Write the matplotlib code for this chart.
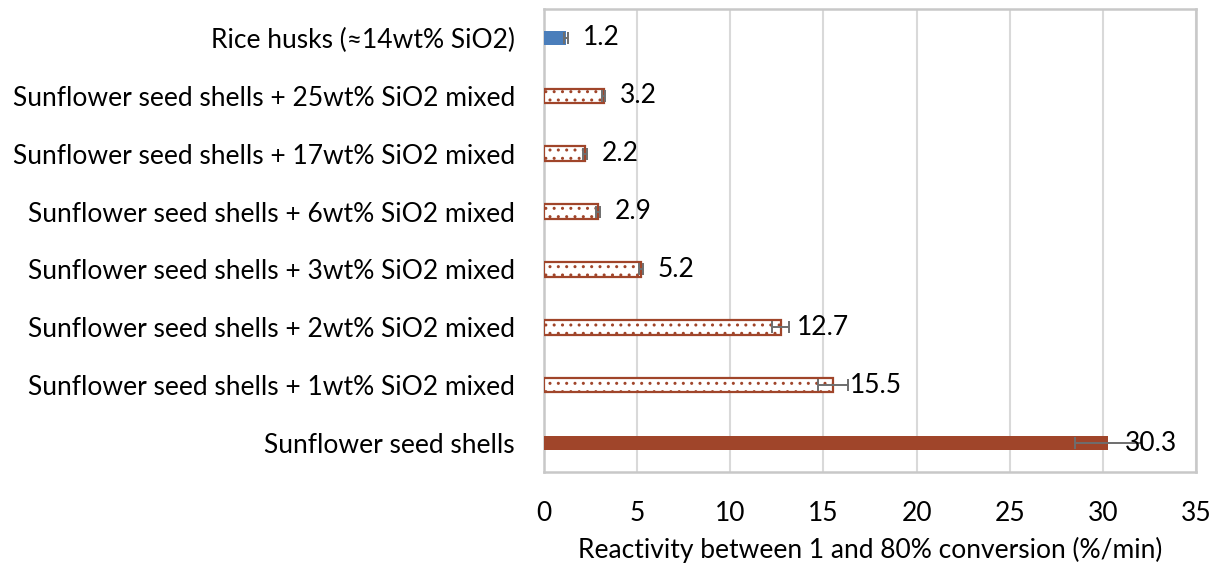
import matplotlib
matplotlib.use("Agg")
import matplotlib.pyplot as plt
import numpy as np

categories = [
    "Sunflower seed shells",
    "Sunflower seed shells + 1wt% SiO2 mixed",
    "Sunflower seed shells + 2wt% SiO2 mixed",
    "Sunflower seed shells + 3wt% SiO2 mixed",
    "Sunflower seed shells + 6wt% SiO2 mixed",
    "Sunflower seed shells + 17wt% SiO2 mixed",
    "Sunflower seed shells + 25wt% SiO2 mixed",
    "Rice husks (\u224814wt% SiO2)",
]
values = [30.3, 15.5, 12.7, 5.2, 2.9, 2.2, 3.2, 1.2]
errors = [1.8, 0.8, 0.45, 0.1, 0.12, 0.1, 0.1, 0.1]
labels = ["30.3", "15.5", "12.7", "5.2", "2.9", "2.2", "3.2", "1.2"]
kinds = ["solid", "dots", "dots", "dots", "dots", "dots", "dots", "blue"]
xticks = [0, 5, 10, 15, 20, 25, 30, 35]

plt.rcParams['font.family'] = ['Lato', 'DejaVu Sans']
plt.rcParams['hatch.color'] = '#C87A66'
plt.rcParams['hatch.linewidth'] = 1.0

fig = plt.figure(figsize=(12.19, 5.70), dpi=100)
ax = fig.add_axes([544/1219, 1 - 472/570, (1196-544)/1219, (472-9)/570])

brown = '#A0452A'
fs = 19
y = np.arange(len(categories))
for i, (v, k) in enumerate(zip(values, kinds)):
    if k == "solid":
        ax.barh(y[i], v, height=0.25, color=brown, zorder=3)
    elif k == "blue":
        ax.barh(y[i], v, height=0.25, color='#4A7EBB', zorder=3)
    else:
        ax.barh(y[i], v, height=0.25, facecolor='white', edgecolor=brown,
                linewidth=1.6, hatch='..', zorder=3)
ax.errorbar(values, y, xerr=errors, fmt='none', ecolor='#6E6E6E',
            elinewidth=1.4, capsize=4, capthick=1.4, zorder=4)
for i, (v, lab) in enumerate(zip(values, labels)):
    ax.annotate(lab, (v, y[i]), xytext=(12, 0), textcoords='offset points',
                va='center', ha='left', fontsize=fs, color='black', zorder=5)

ax.set_xlim(0, 35)
ax.set_ylim(-0.5, len(categories) - 0.5)
ax.set_xticks(xticks)
ax.set_xticklabels([str(t) for t in xticks], fontsize=fs)
ax.set_yticks(y)
ax.set_yticklabels(categories, fontsize=fs)
ax.tick_params(axis='both', length=0)
ax.tick_params(axis='y', pad=21)
ax.tick_params(axis='x', pad=21)
ax.xaxis.grid(True, color='#D9D9D9', linewidth=1.5, zorder=0)
ax.set_axisbelow(True)
for s in ax.spines.values():
    s.set_color('#C8C8C8')
    s.set_linewidth(1.8)
ax.set_xlabel("Reactivity between 1 and 80% conversion (%/min)", fontsize=fs, labelpad=8)

fig.savefig("out.png", dpi=100)
